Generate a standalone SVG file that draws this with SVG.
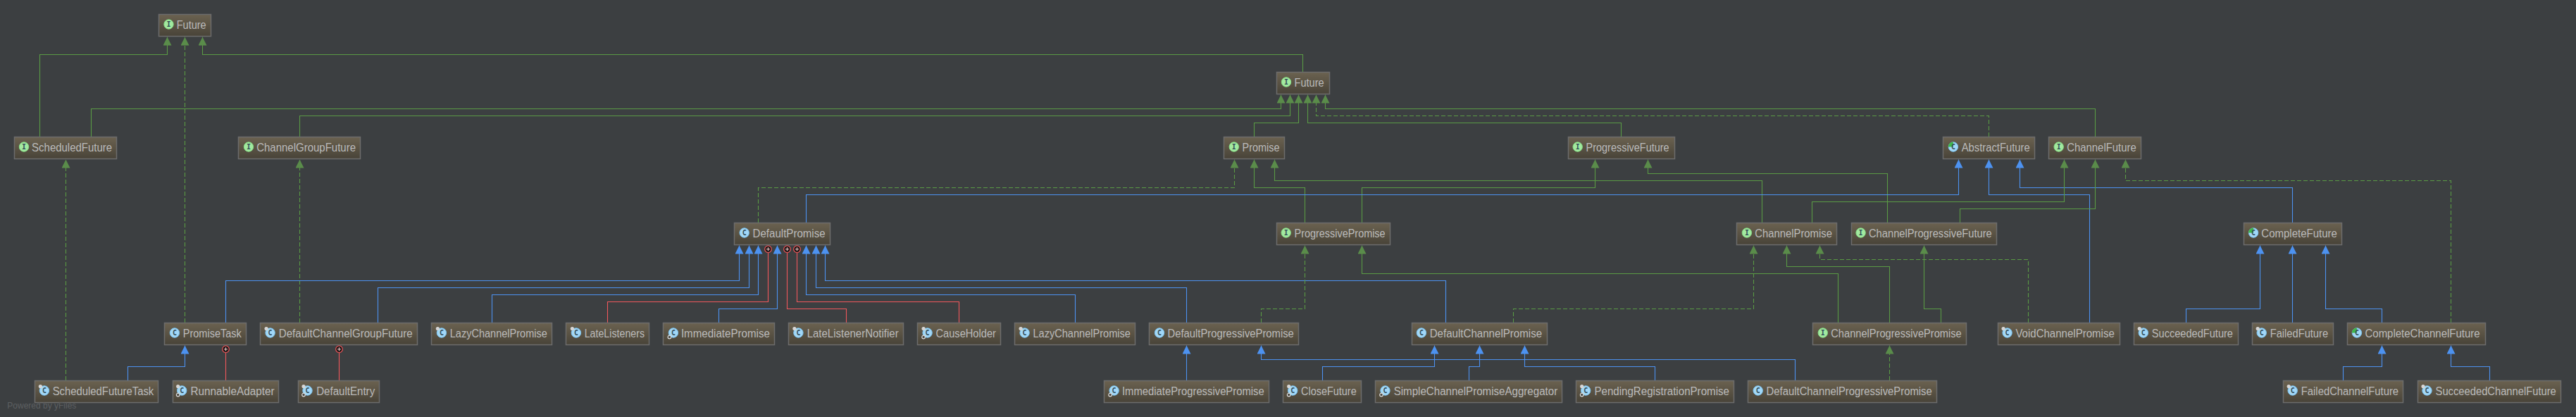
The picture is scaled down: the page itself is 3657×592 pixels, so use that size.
<svg xmlns="http://www.w3.org/2000/svg" width="3657" height="592" viewBox="0 0 3657 592">
<style>
.box{fill:url(#nodeFill);stroke:#6c6c6c;stroke-width:1.5}
.lbl{font-family:"Liberation Sans",Arial,sans-serif;font-size:16px;fill:#bbbbbb}
.ic{font-family:"DejaVu Sans Mono","Liberation Mono",monospace;font-size:10px;font-weight:bold;fill:#2f4a55;text-anchor:middle}
.c{fill:none;stroke-width:1.1}
.g{stroke:#5a9a45;marker-end:url(#ag)}
.gd{stroke:#5a9a45;stroke-dasharray:6 3;marker-end:url(#ag)}
.b{stroke:#4d92f0;marker-end:url(#ab)}
.r{stroke:#f0585c;marker-end:url(#ar)}
.wm{font-family:"Liberation Sans",Arial,sans-serif;font-size:13.5px;fill:#5c5f61}
</style>
<defs>
<linearGradient id="nodeFill" x1="0" y1="0" x2="0" y2="1"><stop offset="0" stop-color="#6b6250"/><stop offset="1" stop-color="#484338"/></linearGradient>
<marker id="ag" markerUnits="userSpaceOnUse" markerWidth="12" markerHeight="12" refX="12" refY="6" orient="auto"><path d="M0 0L12 6L0 12Z" fill="#5a8c4a"/></marker>
<marker id="ab" markerUnits="userSpaceOnUse" markerWidth="12" markerHeight="12" refX="12" refY="6" orient="auto"><path d="M0 0L12 6L0 12Z" fill="#4d92f0"/></marker>
<marker id="ar" markerUnits="userSpaceOnUse" markerWidth="12" markerHeight="12" refX="6" refY="6" orient="auto"><circle cx="6" cy="6" r="4.8" fill="#1a1414" stroke="#f0585c" stroke-width="1.2"/><path d="M3.5 6H8.5M6 3.5V8.5" stroke="#f0c8c8" stroke-width="1.1"/></marker>
<g id="iI"><circle r="6.7" fill="#a2eaa0" stroke="#86dc84"/><text class="ic" y="3.5" font-family="serif">I</text></g>
<g id="iC"><circle r="6.7" fill="#a3d8f7" stroke="#7cc4f0"/><text class="ic" y="3.5">C</text></g>
<g id="iA"><circle r="6.7" fill="#a3d8f7" stroke="#7cc4f0"/><path d="M0 0V-7A7 7 0 0 0 -7 0Z" fill="#3fb84a"/><text class="ic" y="3.5">C</text></g>
<g id="iP"><use href="#iC"/><circle cx="-5.5" cy="-6" r="2.6" fill="#d6d6d6"/></g>
<g id="iG"><use href="#iC"/><circle cx="-5.5" cy="6" r="2.3" fill="#4a4a44" stroke="#dddddd" stroke-width="1.2"/></g>
<g id="iPG"><use href="#iP"/><circle cx="-5.5" cy="6" r="2.3" fill="#4a4a44" stroke="#dddddd" stroke-width="1.2"/></g>
</defs>
<rect width="3657" height="592" fill="#3c3f41"/>
<g id="connectors" class="c">
<path class="g c" d="M56.5 194V77.5H237.5V52.5"/>
<path class="gd c" d="M262.5 458V52.5"/>
<path class="g c" d="M1849.5 102V77.5H287.5V52.5"/>
<path class="gd c" d="M93.5 540V226.5"/>
<path class="gd c" d="M425.5 458V226.5"/>
<path class="g c" d="M129.5 194V154.5H1818.5V134.5"/>
<path class="g c" d="M425.5 194V164.5H1831.5V134.5"/>
<path class="g c" d="M1780.5 194V174.5H1843.5V134.5"/>
<path class="g c" d="M2301.5 194V174.5H1856.5V134.5"/>
<path class="gd c" d="M2823.5 194V164.5H1868.5V134.5"/>
<path class="g c" d="M2974.5 194V154.5H1881.5V134.5"/>
<path class="gd c" d="M1076.5 316V266.5H1752.5V226.5"/>
<path class="g c" d="M1852.5 316V266.5H1780.5V226.5"/>
<path class="g c" d="M2501.5 316V256.5H1809.5V226.5"/>
<path class="g c" d="M1933.5 316V266.5H2264.5V226.5"/>
<path class="g c" d="M2679.5 316V246.5H2339.5V226.5"/>
<path class="b c" d="M1144.5 316V276.5H2780.5V226.5"/>
<path class="b c" d="M2966.5 458V276.5H2823.5V226.5"/>
<path class="b c" d="M3254.5 316V266.5H2867.5V226.5"/>
<path class="g c" d="M2572.5 316V286.5H2930.5V226.5"/>
<path class="g c" d="M2782.5 316V296.5H2974.5V226.5"/>
<path class="gd c" d="M3479.5 458V256.5H3017.5V226.5"/>
<path class="b c" d="M320.5 458V398.5H1049.5V348.5"/>
<path class="b c" d="M536.5 458V408.5H1063.5V348.5"/>
<path class="b c" d="M698.5 458V418.5H1076.5V348.5"/>
<path class="r c" d="M862.5 458V428.5H1090.5V353.7"/>
<path class="b c" d="M1020.5 458V438.5H1103.5V348.5"/>
<path class="r c" d="M1201.5 458V438.5H1117.5V353.7"/>
<path class="r c" d="M1361.5 458V428.5H1131.5V353.7"/>
<path class="b c" d="M1526.5 458V418.5H1144.5V348.5"/>
<path class="b c" d="M1684.5 458V408.5H1158.5V348.5"/>
<path class="b c" d="M2052.5 458V398.5H1171.5V348.5"/>
<path class="b c" d="M181.5 540V520.5H262.5V490.5"/>
<path class="r c" d="M320.5 540V495.7"/>
<path class="r c" d="M481.5 540V495.7"/>
<path class="b c" d="M1684.5 540V490.5"/>
<path class="b c" d="M2548.5 540V510.5H1790.5V490.5"/>
<path class="gd c" d="M1790.5 458V438.5H1852.5V348.5"/>
<path class="g c" d="M2609.5 458V388.5H1933.5V348.5"/>
<path class="gd c" d="M2148.5 458V438.5H2489.5V348.5"/>
<path class="b c" d="M1877.5 540V520.5H2036.5V490.5"/>
<path class="b c" d="M2085.5 540V520.5H2100.5V490.5"/>
<path class="b c" d="M2349.5 540V520.5H2164.5V490.5"/>
<path class="g c" d="M2682.5 458V378.5H2536.5V348.5"/>
<path class="gd c" d="M2879.5 458V368.5H2583.5V348.5"/>
<path class="g c" d="M2755.5 458V438.5H2731.5V348.5"/>
<path class="gd c" d="M2682.5 540V490.5"/>
<path class="b c" d="M3103.5 458V438.5H3208.5V348.5"/>
<path class="b c" d="M3254.5 458V348.5"/>
<path class="b c" d="M3381.5 458V438.5H3301.5V348.5"/>
<path class="b c" d="M3326.5 540V520.5H3381.5V490.5"/>
<path class="b c" d="M3534.5 540V520.5H3479.5V490.5"/>
</g>
<g id="Future-1"><rect class="box" x="225.5" y="20.5" width="74" height="31"/><use href="#iI" x="239.5" y="34.5"/><text class="lbl" x="250.7" y="41" textLength="42" lengthAdjust="spacingAndGlyphs">Future</text></g>
<g id="Future-2"><rect class="box" x="1812.5" y="102.5" width="75" height="31"/><use href="#iI" x="1826" y="116.5"/><text class="lbl" x="1837.6" y="123" textLength="42" lengthAdjust="spacingAndGlyphs">Future</text></g>
<g id="ScheduledFuture"><rect class="box" x="20.5" y="194.5" width="145" height="31"/><use href="#iI" x="34" y="208.5"/><text class="lbl" x="45.1" y="215" textLength="114" lengthAdjust="spacingAndGlyphs">ScheduledFuture</text></g>
<g id="ChannelGroupFuture"><rect class="box" x="338.5" y="194.5" width="173" height="31"/><use href="#iI" x="353" y="208.5"/><text class="lbl" x="364.2" y="215" textLength="140.8" lengthAdjust="spacingAndGlyphs">ChannelGroupFuture</text></g>
<g id="Promise"><rect class="box" x="1737.5" y="194.5" width="86" height="31"/><use href="#iI" x="1751.8" y="208.5"/><text class="lbl" x="1763.5" y="215" textLength="53" lengthAdjust="spacingAndGlyphs">Promise</text></g>
<g id="ProgressiveFuture"><rect class="box" x="2226.5" y="194.5" width="151" height="31"/><use href="#iI" x="2239.7" y="208.5"/><text class="lbl" x="2251.6" y="215" textLength="118" lengthAdjust="spacingAndGlyphs">ProgressiveFuture</text></g>
<g id="AbstractFuture"><rect class="box" x="2758.5" y="194.5" width="130" height="31"/><use href="#iA" x="2772.9" y="208.5"/><text class="lbl" x="2784.7" y="215" textLength="97" lengthAdjust="spacingAndGlyphs">AbstractFuture</text></g>
<g id="ChannelFuture"><rect class="box" x="2908.5" y="194.5" width="131" height="31"/><use href="#iI" x="2922.7" y="208.5"/><text class="lbl" x="2934.2" y="215" textLength="98.6" lengthAdjust="spacingAndGlyphs">ChannelFuture</text></g>
<g id="DefaultPromise"><rect class="box" x="1042.5" y="316.5" width="136" height="31"/><use href="#iC" x="1056.7" y="330.5"/><text class="lbl" x="1068.6" y="337" textLength="103" lengthAdjust="spacingAndGlyphs">DefaultPromise</text></g>
<g id="ProgressivePromise"><rect class="box" x="1812.5" y="316.5" width="161" height="31"/><use href="#iI" x="1825.7" y="330.5"/><text class="lbl" x="1837.6" y="337" textLength="129" lengthAdjust="spacingAndGlyphs">ProgressivePromise</text></g>
<g id="ChannelPromise"><rect class="box" x="2465.5" y="316.5" width="142" height="31"/><use href="#iI" x="2479.9" y="330.5"/><text class="lbl" x="2491.3" y="337" textLength="109.6" lengthAdjust="spacingAndGlyphs">ChannelPromise</text></g>
<g id="ChannelProgressiveFuture"><rect class="box" x="2628.5" y="316.5" width="206" height="31"/><use href="#iI" x="2641.6" y="330.5"/><text class="lbl" x="2653" y="337" textLength="174.8" lengthAdjust="spacingAndGlyphs">ChannelProgressiveFuture</text></g>
<g id="CompleteFuture"><rect class="box" x="3185.5" y="316.5" width="139" height="31"/><use href="#iA" x="3199.1" y="330.5"/><text class="lbl" x="3210.3" y="337" textLength="107.6" lengthAdjust="spacingAndGlyphs">CompleteFuture</text></g>
<g id="PromiseTask"><rect class="box" x="233.5" y="458.5" width="116" height="31"/><use href="#iC" x="247.9" y="472.5"/><text class="lbl" x="259.8" y="479" textLength="83" lengthAdjust="spacingAndGlyphs">PromiseTask</text></g>
<g id="DefaultChannelGroupFuture"><rect class="box" x="369.5" y="458.5" width="223" height="31"/><use href="#iP" x="383.6" y="472.5"/><text class="lbl" x="395.8" y="479" textLength="189.8" lengthAdjust="spacingAndGlyphs">DefaultChannelGroupFuture</text></g>
<g id="LazyChannelPromise-1"><rect class="box" x="612.5" y="458.5" width="171" height="31"/><use href="#iP" x="626.9" y="472.5"/><text class="lbl" x="638.8" y="479" textLength="138" lengthAdjust="spacingAndGlyphs">LazyChannelPromise</text></g>
<g id="LateListeners"><rect class="box" x="803.5" y="458.5" width="118" height="31"/><use href="#iP" x="817.9" y="472.5"/><text class="lbl" x="829.7" y="479" textLength="85.4" lengthAdjust="spacingAndGlyphs">LateListeners</text></g>
<g id="ImmediatePromise"><rect class="box" x="941.5" y="458.5" width="158" height="31"/><use href="#iG" x="955.9" y="472.5"/><text class="lbl" x="966.9" y="479" textLength="126" lengthAdjust="spacingAndGlyphs">ImmediatePromise</text></g>
<g id="LateListenerNotifier"><rect class="box" x="1119.5" y="458.5" width="163" height="31"/><use href="#iP" x="1133.4" y="472.5"/><text class="lbl" x="1145.7" y="479" textLength="130" lengthAdjust="spacingAndGlyphs">LateListenerNotifier</text></g>
<g id="CauseHolder"><rect class="box" x="1302.5" y="458.5" width="118" height="31"/><use href="#iPG" x="1316.6" y="472.5"/><text class="lbl" x="1328.5" y="479" textLength="85.4" lengthAdjust="spacingAndGlyphs">CauseHolder</text></g>
<g id="LazyChannelPromise-2"><rect class="box" x="1440.5" y="458.5" width="171" height="31"/><use href="#iP" x="1454.6" y="472.5"/><text class="lbl" x="1466.5" y="479" textLength="138.4" lengthAdjust="spacingAndGlyphs">LazyChannelPromise</text></g>
<g id="DefaultProgressivePromise"><rect class="box" x="1631.5" y="458.5" width="212" height="31"/><use href="#iC" x="1646" y="472.5"/><text class="lbl" x="1657.5" y="479" textLength="179.3" lengthAdjust="spacingAndGlyphs">DefaultProgressivePromise</text></g>
<g id="DefaultChannelPromise"><rect class="box" x="2004.5" y="458.5" width="192" height="31"/><use href="#iC" x="2017.9" y="472.5"/><text class="lbl" x="2029.7" y="479" textLength="159.4" lengthAdjust="spacingAndGlyphs">DefaultChannelPromise</text></g>
<g id="ChannelProgressivePromise"><rect class="box" x="2573.5" y="458.5" width="218" height="31"/><use href="#iI" x="2587.8" y="472.5"/><text class="lbl" x="2599.3" y="479" textLength="185.4" lengthAdjust="spacingAndGlyphs">ChannelProgressivePromise</text></g>
<g id="VoidChannelPromise"><rect class="box" x="2836.5" y="458.5" width="173" height="31"/><use href="#iP" x="2849.6" y="472.5"/><text class="lbl" x="2861.4" y="479" textLength="140.4" lengthAdjust="spacingAndGlyphs">VoidChannelPromise</text></g>
<g id="SucceededFuture"><rect class="box" x="3029.5" y="458.5" width="148" height="31"/><use href="#iP" x="3042.8" y="472.5"/><text class="lbl" x="3054.8" y="479" textLength="115.2" lengthAdjust="spacingAndGlyphs">SucceededFuture</text></g>
<g id="FailedFuture"><rect class="box" x="3197.5" y="458.5" width="115" height="31"/><use href="#iP" x="3210.7" y="472.5"/><text class="lbl" x="3222.7" y="479" textLength="82.4" lengthAdjust="spacingAndGlyphs">FailedFuture</text></g>
<g id="CompleteChannelFuture"><rect class="box" x="3332.5" y="458.5" width="196" height="31"/><use href="#iA" x="3345.9" y="472.5"/><text class="lbl" x="3357.5" y="479" textLength="163.1" lengthAdjust="spacingAndGlyphs">CompleteChannelFuture</text></g>
<g id="ScheduledFutureTask"><rect class="box" x="49.5" y="540.5" width="175" height="31"/><use href="#iP" x="62.9" y="554.5"/><text class="lbl" x="74.7" y="561" textLength="143.6" lengthAdjust="spacingAndGlyphs">ScheduledFutureTask</text></g>
<g id="RunnableAdapter"><rect class="box" x="245.5" y="540.5" width="150" height="31"/><use href="#iPG" x="258.2" y="554.5"/><text class="lbl" x="270.5" y="561" textLength="119" lengthAdjust="spacingAndGlyphs">RunnableAdapter</text></g>
<g id="DefaultEntry"><rect class="box" x="423.5" y="540.5" width="115" height="31"/><use href="#iPG" x="436.5" y="554.5"/><text class="lbl" x="449.2" y="561" textLength="83" lengthAdjust="spacingAndGlyphs">DefaultEntry</text></g>
<g id="ImmediateProgressivePromise"><rect class="box" x="1567.5" y="540.5" width="234" height="31"/><use href="#iG" x="1581.6" y="554.5"/><text class="lbl" x="1593" y="561" textLength="201.7" lengthAdjust="spacingAndGlyphs">ImmediateProgressivePromise</text></g>
<g id="CloseFuture"><rect class="box" x="1821.5" y="540.5" width="111" height="31"/><use href="#iPG" x="1835.2" y="554.5"/><text class="lbl" x="1847.1" y="561" textLength="78.6" lengthAdjust="spacingAndGlyphs">CloseFuture</text></g>
<g id="SimpleChannelPromiseAggregator"><rect class="box" x="1952.5" y="540.5" width="265" height="31"/><use href="#iG" x="1966.5" y="554.5"/><text class="lbl" x="1978.7" y="561" textLength="232.5" lengthAdjust="spacingAndGlyphs">SimpleChannelPromiseAggregator</text></g>
<g id="PendingRegistrationPromise"><rect class="box" x="2237.5" y="540.5" width="224" height="31"/><use href="#iPG" x="2251.2" y="554.5"/><text class="lbl" x="2263.4" y="561" textLength="191.6" lengthAdjust="spacingAndGlyphs">PendingRegistrationPromise</text></g>
<g id="DefaultChannelProgressivePromise"><rect class="box" x="2481.5" y="540.5" width="268" height="31"/><use href="#iC" x="2495.7" y="554.5"/><text class="lbl" x="2507.6" y="561" textLength="235.2" lengthAdjust="spacingAndGlyphs">DefaultChannelProgressivePromise</text></g>
<g id="FailedChannelFuture"><rect class="box" x="3241.5" y="540.5" width="170" height="31"/><use href="#iP" x="3254.7" y="554.5"/><text class="lbl" x="3266.8" y="561" textLength="138.3" lengthAdjust="spacingAndGlyphs">FailedChannelFuture</text></g>
<g id="SucceededChannelFuture"><rect class="box" x="3432.5" y="540.5" width="203" height="31"/><use href="#iP" x="3445.5" y="554.5"/><text class="lbl" x="3457.6" y="561" textLength="171.2" lengthAdjust="spacingAndGlyphs">SucceededChannelFuture</text></g>
<text class="wm" x="10.3" y="580" textLength="98" lengthAdjust="spacingAndGlyphs">Powered by yFiles</text>
</svg>
